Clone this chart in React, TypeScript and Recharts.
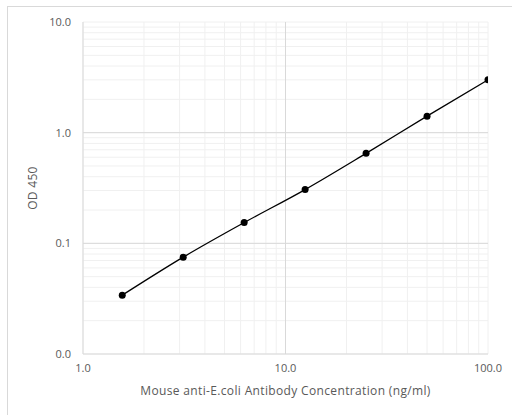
import { CartesianGrid, Line, LineChart, ReferenceLine, XAxis, YAxis, Label } from "recharts";

// concentrations (ng/ml) and OD 450 readings
const concentrations = [1.5625, 3.125, 6.25, 12.5, 25, 50, 100];
const od450 = [0.034, 0.075, 0.154, 0.306, 0.65, 1.41, 3.0];

const xTicks = [1, 2, 3, 4, 5, 6, 7, 8, 9, 10, 20, 30, 40, 50, 60, 70, 80, 90, 100];
const yTicks = [
  0.01, 0.02, 0.03, 0.04, 0.05, 0.06, 0.07, 0.08, 0.09,
  0.1, 0.2, 0.3, 0.4, 0.5, 0.6, 0.7, 0.8, 0.9,
  1, 2, 3, 4, 5, 6, 7, 8, 9, 10,
];
const xMajor = [1, 10, 100];
const yMajor = [0.01, 0.1, 1, 10];

const data = concentrations.map((c, i) => ({ conc: c, od: od450[i] }));

const font = "'Open Sans', sans-serif";
const textColor = "#595959";

export default function App() {
  return (
    <div style={{ position: "absolute", left: 0, top: 0, width: 512, height: 415, background: "#fff", overflow: "hidden" }}>
      <div
        style={{
          position: "absolute",
          left: 7,
          top: 6,
          width: 505,
          height: 409,
          borderLeft: "1px solid #d9d9d9",
          borderTop: "1px solid #d9d9d9",
        }}
      />
      <LineChart
        width={512}
        height={415}
        data={data}
        margin={{ top: 22, right: 24, bottom: 31, left: 23 }}
        style={{ position: "absolute", left: 0, top: 0, fontFamily: font }}
      >
        <CartesianGrid stroke="#f0f0f0" strokeWidth={1} />
        {yMajor.slice(1, 3).map((v) => (
          <ReferenceLine key={`y${v}`} y={v} stroke="#d9d9d9" strokeWidth={1} />
        ))}
        <ReferenceLine x={10} stroke="#d9d9d9" strokeWidth={1} />
        <XAxis
          dataKey="conc"
          type="number"
          scale="log"
          domain={[1, 100]}
          ticks={xTicks}
          interval={0}
          tickLine={false}
          tickMargin={4}
          height={30}
          axisLine={{ stroke: "#d9d9d9" }}
          tick={{ fill: textColor, fontSize: 11, fontFamily: font }}
          tickFormatter={(v: number) => (xMajor.includes(v) ? v.toFixed(1) : "")}
          allowDataOverflow
        >
          <Label
            value="Mouse anti-E.coli Antibody Concentration (ng/ml)"
            position="insideBottom"
            offset={-11}
            style={{ fill: textColor, fontSize: 12, fontFamily: font, letterSpacing: 0.35 }}
          />
        </XAxis>
        <YAxis
          type="number"
          scale="log"
          domain={[0.01, 10]}
          ticks={yTicks}
          interval={0}
          tickLine={false}
          tickMargin={6}
          width={60}
          axisLine={{ stroke: "#d9d9d9" }}
          tick={{ fill: textColor, fontSize: 11, fontFamily: font }}
          tickFormatter={(v: number) => (yMajor.includes(v) ? v.toFixed(1) : "")}
          allowDataOverflow
        >
          <Label
            value="OD 450"
            angle={-90}
            position="insideLeft"
            offset={10}
            style={{ fill: textColor, fontSize: 12, fontFamily: font, textAnchor: "middle", letterSpacing: 0.3 }}
          />
        </YAxis>
        <Line
          dataKey="od"
          type="monotone"
          stroke="#000"
          strokeWidth={1.3}
          dot={{ r: 3.5, fill: "#000", stroke: "#000", strokeWidth: 0 }}
          activeDot={false}
          isAnimationActive={false}
        />
      </LineChart>
    </div>
  );
}
